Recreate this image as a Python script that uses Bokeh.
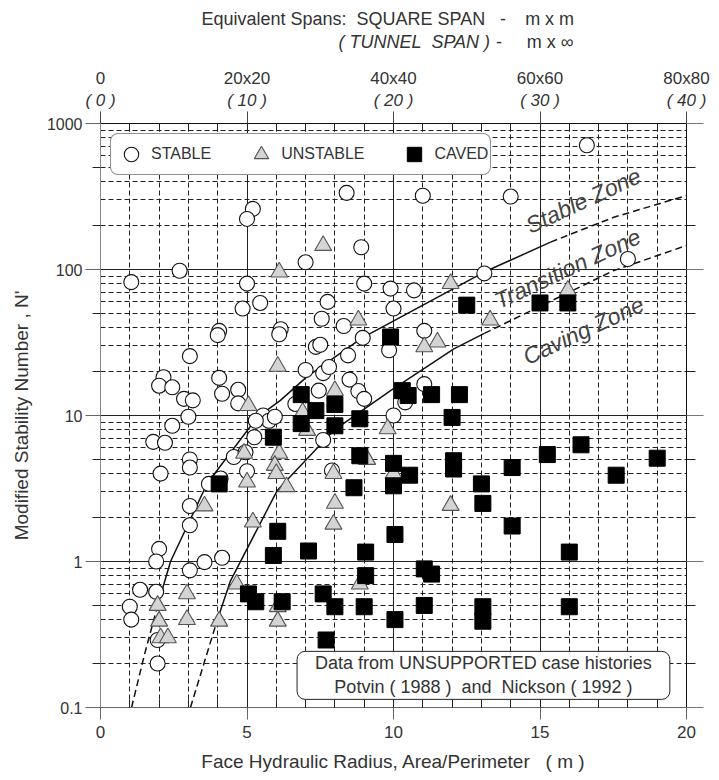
from bokeh.plotting import figure
from bokeh.layouts import column
from bokeh.models import (Range1d, FixedTicker, LinearAxis, LogAxis, Grid, Label,
                          Legend, LegendItem)
from bokeh.core.properties import value
from bokeh.embed import file_html
from bokeh.resources import INLINE
import math

FONT = "Liberation Sans"
TXT = "#333333"
NB = "\u00a0"

# ---------------- data ----------------
stable_x = [8.4, 5.2, 5.0, 8.9, 2.7, 1.05, 5.0, 7.0, 9.0, 5.45, 4.85, 7.75, 7.55, 8.3, 4.05, 4.0,
            6.15, 6.1, 8.95, 7.35, 7.5, 9.9, 10.0, 16.6, 11.0, 14.0, 18.0, 13.1, 10.7, 11.05,
            3.05, 2.15, 2.0, 2.45, 2.85, 3.15, 3.0, 2.45, 1.8, 2.2, 2.05, 3.05, 3.05, 3.05, 3.05,
            2.0, 1.9, 3.05, 3.55, 4.15, 4.05, 4.15, 4.7, 4.7, 5.55, 5.75, 5.95, 5.3, 5.25, 4.55,
            3.7, 4.1, 5.0, 4.95, 7.0, 7.6, 7.8, 7.45, 8.45, 8.5, 8.8, 9.0, 7.6, 7.9, 6.65, 10.0,
            11.05, 10.4, 9.85, 1.35, 1.9, 1.0, 1.05, 1.95, 1.95]
stable_y = [335, 260, 222, 142, 98, 82, 80, 112, 80, 59, 54, 60, 46, 41, 38, 35.5,
            39, 36, 34, 29.5, 30.5, 74, 54, 710, 320, 316, 118, 94, 72, 38,
            25.5, 18.3, 16.0, 15.6, 13.0, 12.7, 9.8, 8.5, 6.6, 6.5, 4.0, 5.0, 4.4, 2.4, 1.77,
            1.22, 1.0, 0.87, 0.99, 1.06, 18.1, 14.1, 15.0, 12.1, 10.0, 9.2, 9.8, 9.2, 7.1, 5.2,
            3.4, 3.7, 4.15, 5.6, 20.5, 19.5, 21.5, 14.8, 25.8, 17.6, 14.7, 13.0, 6.8, 4.2, 12.0, 10.0,
            16.4, 12.3, 28, 0.64, 0.62, 0.49, 0.40, 0.29, 0.20]

unstable_x = [7.6, 6.1, 8.8, 11.95, 15.95, 13.3, 11.5, 11.05, 6.05, 5.05, 4.9, 6.1, 5.95, 6.0,
              6.35, 5.0, 3.55, 5.2, 7.05, 6.9, 8.0, 7.95, 8.0, 7.95, 9.1, 9.8, 10.0, 11.95,
              2.95, 1.95, 2.0, 2.05, 2.3, 2.95, 4.05, 4.65, 6.05, 6.05, 8.85]
unstable_y = [146, 96, 45, 80, 72, 45, 31.8, 29.5, 21.7, 11.7, 5.5, 5.5, 4.55, 4.0,
              3.25, 3.5, 2.4, 1.86, 7.9, 10.5, 14.8, 4.0, 2.5, 1.8, 5.0, 8.1, 4.0, 2.42,
              0.60, 0.50, 0.39, 0.30, 0.30, 0.40, 0.39, 0.70, 0.49, 0.39, 0.70]

caved_x = [12.5, 15.0, 15.95, 9.9, 6.85, 7.35, 6.85, 8.0, 8.0, 8.85, 5.9, 4.05, 8.85, 8.65,
           6.05, 5.9, 7.1, 9.05, 9.05, 10.3, 10.5, 11.3, 12.25, 12.0, 10.0, 10.55, 10.0, 12.05,
           12.05, 13.0, 13.05, 14.05, 15.25, 16.4, 17.6, 19.0, 14.05, 10.05, 16.0, 11.05, 11.3,
           5.05, 5.3, 6.2, 7.6, 8.0, 9.0, 7.7, 10.05, 11.05, 13.05, 13.05, 16.0]
caved_y = [57, 59, 59, 34.5, 13.9, 10.8, 8.8, 11.9, 8.5, 9.5, 7.1, 3.4, 5.3, 3.2,
           1.61, 1.1, 1.18, 1.16, 0.80, 14.8, 13.7, 13.9, 13.9, 9.7, 4.7, 3.9, 3.3, 4.9,
           4.3, 3.4, 2.5, 4.4, 5.4, 6.3, 3.9, 5.1, 1.75, 1.53, 1.16, 0.89, 0.82,
           0.60, 0.53, 0.53, 0.60, 0.49, 0.49, 0.29, 0.40, 0.50, 0.49, 0.39, 0.49]

# boundary curves
upper_lo_x = [1.06, 1.5, 1.95]
upper_lo_y = [0.1, 0.23, 0.5]
upper_mid_x = [1.95, 2.39, 3.64, 5.35, 6.14, 7.03, 8.93, 13.08, 15.36]
upper_mid_y = [0.5, 1.0, 3.42, 9.7, 12.7, 18.3, 34.0, 95.7, 154]
upper_hi_x = [15.36, 17.52, 20.0]
upper_hi_y = [154, 228, 321]

lower_lo_x = [3.07, 3.53, 3.98]
lower_lo_y = [0.1, 0.2, 0.394]
lower_mid_x = [3.98, 4.44, 6.03, 7.96, 9.9, 12.06, 13.1]
lower_mid_y = [0.394, 0.74, 3.06, 7.9, 14.8, 28.6, 36.5]
lower_hi_x = [13.1, 17.5, 20.0]
lower_hi_y = [36.5, 98, 146]

hr_ticks = [0, 5, 10, 15, 20]
hr_tick_labels = ["0", "5", "10", "15", "20"]
square_span_labels = ["0", "20x20", "40x40", "60x60", "80x80"]
tunnel_span_labels = ["( 0 )", "( 10 )", "( 20 )", "( 30 )", "( 40 )"]
n_ticks = [0.1, 1, 10, 100, 1000]
n_tick_labels = ["0.1", "1", "10", "100", "1000"]

# header texts: (text, style)
header_line1 = [("Equivalent Spans:" + NB * 2 + "SQUARE SPAN", "normal"), ("-", "normal"),
                ("m x m", "normal")]
header_line2 = [("(" + NB + "TUNNEL" + NB * 2 + "SPAN" + NB + ")", "italic"), ("-", "normal"),
                ("m x \u221e", "normal")]

# ---------------- header figure ----------------
HH = 60
h = figure(width=719, height=HH, x_range=Range1d(0, 719), y_range=Range1d(0, HH),
           output_backend="svg", toolbar_location=None,
           min_border_left=0, min_border_right=0, min_border_top=0, min_border_bottom=0)
h.axis.visible = False
h.grid.visible = False
h.outline_line_color = None
h.background_fill_color = "white"
h.border_fill_color = "white"
hx = [472, 494, 521]
haligns = ["right", "center", "left"]
for (t, st), x, al in zip(header_line1, hx, haligns):
    h.text(x=[x], y=[HH - 18], text=[t], text_align=al, text_baseline="middle",
           text_font=value(FONT), text_font_size="18px", text_font_style=st, text_color=TXT)
hx2 = [478, 489, 523]
for (t, st), x, al in zip(header_line2, hx2, haligns):
    h.text(x=[x], y=[HH - 41], text=[t], text_align=al, text_baseline="middle",
           text_font=value(FONT), text_font_size="18px", text_font_style=st, text_color=TXT)

# ---------------- main figure ----------------
p = figure(width=719, height=780 - HH, x_range=Range1d(0, 20), y_range=Range1d(0.1, 1000),
           y_axis_type="log", output_backend="svg", toolbar_location=None,
           min_border_left=100, min_border_right=33, min_border_top=123 - HH, min_border_bottom=73)
p.outline_line_color = None
p.background_fill_color = "white"
p.border_fill_color = "white"

minor_int = list(range(0, 21))
y_minor_out = [m * 10.0 ** e for e in range(-1, 3) for m in (2, 5)]
y_minor_all = [round(m * 10.0 ** e, 6) for e in range(-1, 3) for m in range(2, 10)]

# grids
p.xgrid.ticker = FixedTicker(ticks=[i for i in range(1, 20) if i % 5 != 0])
p.xgrid.grid_line_color = "#222222"
p.xgrid.grid_line_dash = "5 3"
p.xgrid.grid_line_width = 1
p.add_layout(Grid(dimension=0, ticker=FixedTicker(ticks=[5, 10, 15]),
                  grid_line_color="#222222", grid_line_width=1))
p.ygrid.ticker = FixedTicker(ticks=y_minor_all)
p.ygrid.grid_line_color = "#222222"
p.ygrid.grid_line_dash = "5 3"
p.ygrid.grid_line_width = 1
p.add_layout(Grid(dimension=1, ticker=FixedTicker(ticks=[1, 10, 100]),
                  grid_line_color="#222222", grid_line_width=1))

# bottom axis
xa = p.xaxis[0]
xa.ticker = FixedTicker(ticks=hr_ticks, minor_ticks=minor_int)
xa.major_label_overrides = {t: l for t, l in zip(hr_ticks, hr_tick_labels)}
xa.major_tick_out = 12
xa.major_tick_in = 0
xa.minor_tick_out = 0
xa.minor_tick_in = 8
xa.axis_line_color = "#666666"
xa.major_tick_line_color = "#666666"
xa.minor_tick_line_color = "#222222"
xa.major_label_text_font = FONT
xa.major_label_text_font_size = "17px"
xa.major_label_text_color = TXT
xa.major_label_standoff = 6
xa.axis_label = "Face Hydraulic Radius, Area/Perimeter" + NB * 3 + "(" + NB + "m" + NB + ")"
xa.axis_label_text_font = FONT
xa.axis_label_text_font_size = "19px"
xa.axis_label_text_font_style = "normal"
xa.axis_label_text_color = TXT
xa.axis_label_standoff = 10

# left axis
ya = p.yaxis[0]
ya.ticker = FixedTicker(ticks=n_ticks, minor_ticks=y_minor_out)
ya.major_label_overrides = {t: l for t, l in zip(n_ticks, n_tick_labels)}
ya.major_tick_out = 15
ya.major_tick_in = 0
ya.minor_tick_out = 8
ya.minor_tick_in = 0
ya.axis_line_color = "#888888"
ya.major_tick_line_color = "#666666"
ya.minor_tick_line_color = "#222222"
ya.major_label_text_font = FONT
ya.major_label_text_font_size = "16px"
ya.major_label_text_color = TXT
ya.major_label_standoff = 3
ya.axis_label = "Modified Stability Number , N'"
ya.axis_label_text_font = FONT
ya.axis_label_text_font_size = "19px"
ya.axis_label_text_font_style = "normal"
ya.axis_label_text_color = TXT
ya.axis_label_standoff = 12

# right axis (ticks only)
ra = LogAxis(ticker=FixedTicker(ticks=n_ticks, minor_ticks=y_minor_out),
             major_tick_out=17, major_tick_in=0, minor_tick_out=9, minor_tick_in=0,
             axis_line_color="#111111", major_tick_line_color="#777777",
             minor_tick_line_color="#222222",
             major_label_text_font_size="1px", major_label_text_alpha=0)
p.add_layout(ra, "right")

# top axes: tunnel span (italic) nearest, square span above it
ta1 = LinearAxis(ticker=FixedTicker(ticks=hr_ticks, minor_ticks=minor_int),
                 major_label_overrides={t: l for t, l in zip(hr_ticks, tunnel_span_labels)},
                 major_tick_out=12, major_tick_in=0, minor_tick_out=0, minor_tick_in=8,
                 axis_line_color="#111111", major_tick_line_color="#444444",
                 minor_tick_line_color="#222222",
                 major_label_text_font=FONT, major_label_text_font_size="17px",
                 major_label_text_font_style="italic", major_label_text_color=TXT,
                 major_label_standoff=2)
p.add_layout(ta1, "above")
ta2 = LinearAxis(ticker=FixedTicker(ticks=hr_ticks),
                 major_label_overrides={t: l for t, l in zip(hr_ticks, square_span_labels)},
                 major_tick_out=0, major_tick_in=0, minor_tick_out=0, minor_tick_in=0,
                 axis_line_color=None, major_tick_line_color=None, minor_tick_line_color=None,
                 major_label_text_font=FONT, major_label_text_font_size="17px",
                 major_label_text_color=TXT, major_label_standoff=0)
p.add_layout(ta2, "above")

# boundary curves
for xs, ys, dash in [(upper_lo_x, upper_lo_y, "7 4"), (upper_mid_x, upper_mid_y, "solid"),
                     (upper_hi_x, upper_hi_y, "7 4"), (lower_lo_x, lower_lo_y, "7 4"),
                     (lower_mid_x, lower_mid_y, "solid"), (lower_hi_x, lower_hi_y, "7 4")]:
    p.line(xs, ys, line_color="#111111", line_width=1.5, line_dash=dash)

# points
r_s = p.scatter(stable_x, stable_y, marker="circle", size=15, fill_color="white",
                line_color="#111111", line_width=1.1)
r_u = p.scatter(unstable_x, unstable_y, marker="triangle", size=17, fill_color="#d4d4d4",
                line_color="#555555", line_width=1.1)
r_c = p.scatter(caved_x, caved_y, marker="square", size=16, fill_color="#000000",
                line_color="#000000", line_width=1)

# legend
legend = Legend(items=[LegendItem(label="STABLE", renderers=[r_s]),
                       LegendItem(label="UNSTABLE", renderers=[r_u]),
                       LegendItem(label="CAVED", renderers=[r_c])],
                orientation="horizontal", location="top_left", margin=10,
                padding=2, spacing=32, glyph_width=36, glyph_height=36, label_standoff=2,
                label_text_font=FONT, label_text_font_size="16px", label_text_color=TXT,
                border_line_color="#222222", border_line_width=1,
                background_fill_color="white", background_fill_alpha=1)
if "border_radius" in Legend.properties():
    legend.border_radius = 8
p.add_layout(legend)

# zone labels
zone_text = ["Stable Zone", "Transition Zone", "Caving Zone"]
zone_x = [16.48, 15.94, 16.48]
zone_y = [297, 101.6, 38.2]
for t, zx, zy in zip(zone_text, zone_x, zone_y):
    p.add_layout(Label(x=zx, y=zy, text=t, angle=math.radians(25), text_align="center",
                       text_baseline="middle", text_font=FONT, text_font_size="23px",
                       text_font_style="italic", text_color="#444444"))

# data note box
note = Label(x=13.07, y=0.166,
             text="Data from UNSUPPORTED case histories\nPotvin" + NB + "(" + NB + "1988" + NB + ")"
                  + NB * 2 + "and" + NB * 2 + "Nickson" + NB + "(" + NB + "1992" + NB + ")",
             text_align="center", text_baseline="middle", text_font=FONT, text_font_size="18px",
             text_color=TXT, background_fill_color="white", border_line_color="#222222",
             border_line_width=1)
props = Label.properties()
if "padding" in props:
    try:
        note.padding = {"left": 18, "right": 18, "top": 2, "bottom": 2}
    except Exception:
        try:
            note.padding = 4
        except Exception:
            pass
if "border_radius" in props:
    try:
        note.border_radius = 8
    except Exception:
        pass
p.add_layout(note)

layout = column(h, p, spacing=0)
open("out.html", "w").write(file_html(layout, INLINE))
